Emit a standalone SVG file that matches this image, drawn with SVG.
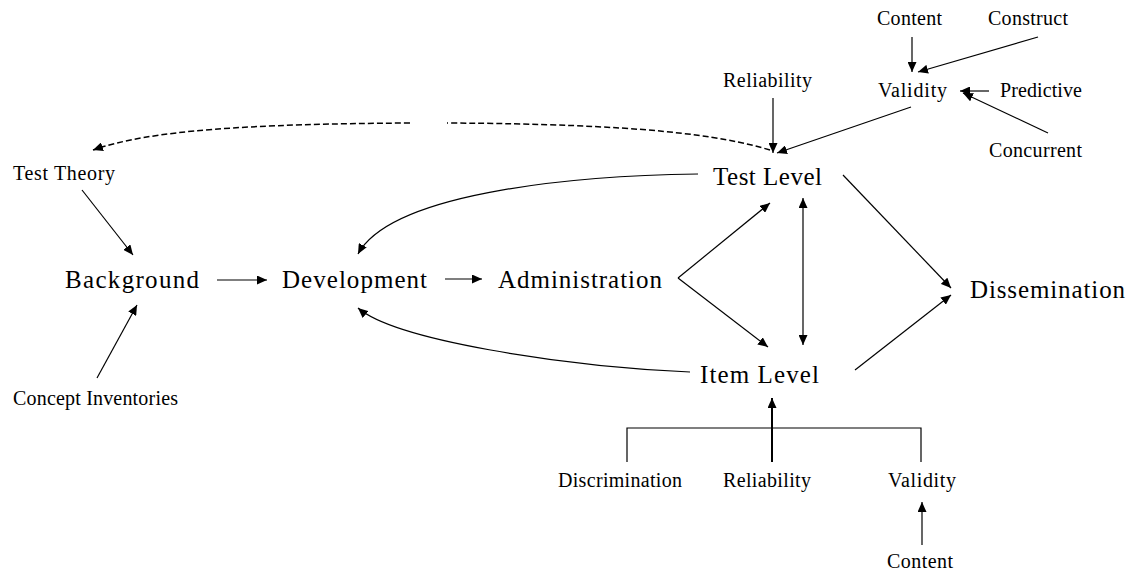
<svg xmlns="http://www.w3.org/2000/svg" width="1133" height="574" viewBox="0 0 1133 574">
<style>
text{font-family:"Liberation Serif","Times New Roman",serif;fill:#000}
.big{font-size:25px}
.sm{font-size:20px}
.ln{fill:none;stroke:#000;stroke-width:1.2}
.th{fill:none;stroke:#000;stroke-width:2}
.ds{fill:none;stroke:#000;stroke-width:1.5;stroke-dasharray:6 3}
</style>
<defs>
<marker id="ah" viewBox="0 0 10 9" refX="10" refY="4.5" markerWidth="10" markerHeight="9" markerUnits="userSpaceOnUse" orient="auto-start-reverse">
<path d="M0,0 L10,4.5 L0,9 z" fill="#000"/>
</marker>
</defs>
<rect width="1133" height="574" fill="#fff"/>
<g id="connectors">
<path class="ln" d="M912,37 L912,72" marker-end="url(#ah)"/>
<path class="ln" d="M1038,37 L918,72" marker-end="url(#ah)"/>
<path class="ln" d="M989,91 L960,91" marker-end="url(#ah)"/>
<path class="ln" d="M1048,133 L963,93" marker-end="url(#ah)"/>
<path class="ln" d="M773,98 L773,153" marker-end="url(#ah)"/>
<path class="ln" d="M911,107 L777,153" marker-end="url(#ah)"/>
<path class="ds" d="M770,150 C720,135 640,124 447,123"/>
<path class="ds" d="M410,123 C250,124 150,130 93,150" marker-end="url(#ah)"/>
<path class="ln" d="M82,190 L133,255" marker-end="url(#ah)"/>
<path class="ln" d="M97,378 L137,305" marker-end="url(#ah)"/>
<path class="ln" d="M217,280 L267,280" marker-end="url(#ah)"/>
<path class="ln" d="M445,279 L482,279" marker-end="url(#ah)"/>
<path class="ln" d="M698,174 C560,176 390,195 358,254" marker-end="url(#ah)"/>
<path class="ln" d="M690,372 C560,366 395,340 358,308" marker-end="url(#ah)"/>
<path class="ln" d="M678,278 L770,203" marker-end="url(#ah)"/>
<path class="ln" d="M678,278 L768,347" marker-end="url(#ah)"/>
<path class="ln" d="M803,198 L803,345" marker-start="url(#ah)" marker-end="url(#ah)"/>
<path class="ln" d="M843,175 L951,288" marker-end="url(#ah)"/>
<path class="ln" d="M855,370 L951,295" marker-end="url(#ah)"/>
<path class="ln" d="M627,462 L627,428 L921,428 L921,462"/>
<path class="th" d="M772,462 L772,398" marker-end="url(#ah)"/>
<path class="ln" d="M922,545 L922,502" marker-end="url(#ah)"/>
</g>
<g id="content-top"><text class="sm" x="877" y="25" textLength="65">Content</text></g>
<g id="construct"><text class="sm" x="988" y="25" textLength="80">Construct</text></g>
<g id="reliability-top"><text class="sm" x="723" y="87" textLength="89">Reliability</text></g>
<g id="validity-top"><text class="sm" x="878" y="97" textLength="69">Validity</text></g>
<g id="predictive"><text class="sm" x="1000" y="97" textLength="82">Predictive</text></g>
<g id="concurrent"><text class="sm" x="989" y="157" textLength="93">Concurrent</text></g>
<g id="test-theory"><text class="sm" x="13" y="180" textLength="102">Test Theory</text></g>
<g id="concept-inventories"><text class="sm" x="13" y="405" textLength="165">Concept Inventories</text></g>
<g id="background"><text class="big" x="65" y="288" textLength="134">Background</text></g>
<g id="development"><text class="big" x="282" y="288" textLength="145">Development</text></g>
<g id="administration"><text class="big" x="498" y="288" textLength="164">Administration</text></g>
<g id="test-level"><text class="big" x="713" y="185" textLength="109">Test Level</text></g>
<g id="item-level"><text class="big" x="700" y="383" textLength="119">Item Level</text></g>
<g id="dissemination"><text class="big" x="970" y="298" textLength="155">Dissemination</text></g>
<g id="discrimination"><text class="sm" x="558" y="487" textLength="124">Discrimination</text></g>
<g id="reliability-bottom"><text class="sm" x="723" y="487" textLength="88">Reliability</text></g>
<g id="validity-bottom"><text class="sm" x="888" y="487" textLength="68">Validity</text></g>
<g id="content-bottom"><text class="sm" x="887" y="568" textLength="66">Content</text></g>
</svg>
